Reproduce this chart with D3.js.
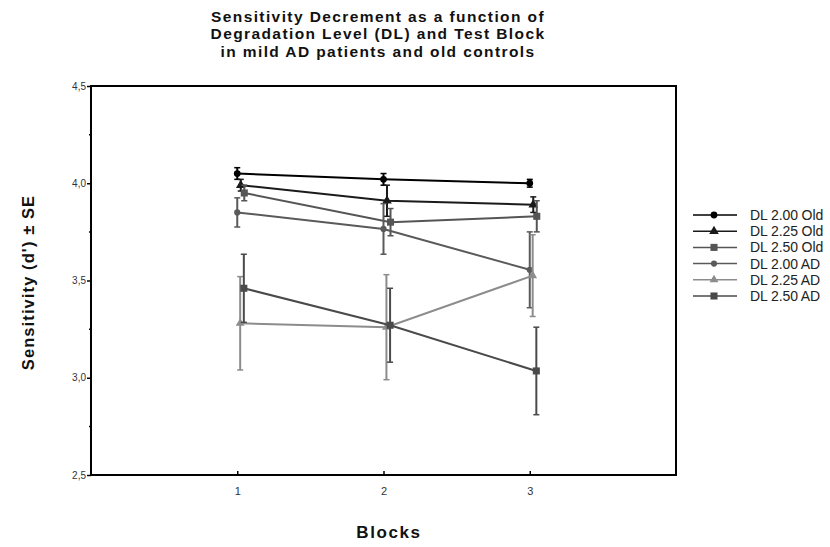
<!DOCTYPE html>
<html>
<head>
<meta charset="utf-8">
<script src="https://cdn.jsdelivr.net/npm/d3@7"></script>
<style>
  body { margin: 0; background: #fff; }
  text { font-family: "Liberation Sans", Arial, sans-serif; }
</style>
</head>
<body>
<script>
// data
var blocks = [1, 2, 3];
var seriesNames = ["DL 2.00 Old", "DL 2.25 Old", "DL 2.50 Old", "DL 2.00 AD", "DL 2.25 AD", "DL 2.50 AD"];
var means = [
    [4.05, 4.02, 4.00],
    [3.99, 3.91, 3.89],
    [3.95, 3.80, 3.83],
    [3.85, 3.765, 3.555],
    [3.28, 3.26, 3.525],
    [3.46, 3.27, 3.035]
];
var errors = [
    [0.03, 0.03, 0.02],
    [0.03, 0.08, 0.04],
    [0.04, 0.07, 0.08],
    [0.075, 0.13, 0.195],
    [0.24, 0.27, 0.21],
    [0.175, 0.19, 0.225]
];
var yTicks = [2.5, 3.0, 3.5, 4.0, 4.5];
var yMinor = [2.75, 3.25, 3.75, 4.25];

// styles
var colors = ["#000", "#1a1a1a", "#555", "#5a5a5a", "#8c8c8c", "#4a4a4a"];
var shapes = [d3.symbolCircle, d3.symbolTriangle, d3.symbolSquare, d3.symbolCircle, d3.symbolTriangle, d3.symbolSquare];
var symSize = [36, 40, 50, 30, 34, 50];
var dodge = [0, 0.024, 0.048, 0, 0.02, 0.045];

var width = 830, height = 547;
var margin = { top: 86, left: 91, right: 154, bottom: 72 };

var svg = d3.select("body").append("svg")
    .attr("width", width)
    .attr("height", height);

var x = d3.scaleLinear().domain([0, 4]).range([margin.left, width - margin.right]);
var y = d3.scaleLinear().domain([2.5, 4.5]).range([height - margin.bottom, margin.top]);

// frame
svg.append("rect")
    .attr("x", x(0)).attr("y", y(4.5))
    .attr("width", x(4) - x(0)).attr("height", y(2.5) - y(4.5))
    .attr("fill", "none").attr("stroke", "#000").attr("stroke-width", 2);

// y axis
var yAxis = svg.append("g")
    .attr("transform", "translate(" + x(0) + ",0)")
    .call(d3.axisLeft(y).tickValues(yTicks).tickSize(4)
        .tickFormat(function (d) { return d3.format(".1f")(d).replace(".", ","); }));
yAxis.select(".domain").remove();
yAxis.selectAll("line").attr("stroke", "#000").attr("stroke-width", 1.5);
yAxis.selectAll("text").attr("font-size", 10).attr("fill", "#333").attr("dx", 2);

svg.append("g").selectAll("line").data(yMinor).enter().append("line")
    .attr("x1", x(0) - 2).attr("x2", x(0))
    .attr("y1", function (d) { return y(d); })
    .attr("y2", function (d) { return y(d); })
    .attr("stroke", "#000").attr("stroke-width", 1.5);

// x axis, ticks point inward
var xAxis = svg.append("g")
    .attr("transform", "translate(0," + y(2.5) + ")")
    .call(d3.axisBottom(x).tickValues(blocks).tickSize(-4).tickPadding(12).tickFormat(d3.format("d")));
xAxis.select(".domain").remove();
xAxis.selectAll("line").attr("stroke", "#000").attr("stroke-width", 1.5);
xAxis.selectAll("text").attr("font-size", 11).attr("fill", "#333");

// lines, error bars, markers
var line = d3.line()
    .x(function (d) { return x(d.b); })
    .y(function (d) { return y(d.m); });

var series = seriesNames.map(function (name, i) {
    return {
        name: name, i: i,
        pts: blocks.map(function (b, j) {
            return { b: b + dodge[i], m: means[i][j], e: errors[i][j] };
        })
    };
});

var g = svg.append("g").selectAll("g").data(series).enter().append("g")
    .attr("stroke", function (d) { return colors[d.i]; })
    .attr("fill", function (d) { return colors[d.i]; });

g.append("path")
    .attr("d", function (d) { return line(d.pts); })
    .attr("fill", "none")
    .attr("stroke-width", 2);

var eb = g.selectAll(".eb").data(function (d) { return d.pts; }).enter().append("g");
eb.append("line")
    .attr("x1", function (d) { return x(d.b); }).attr("x2", function (d) { return x(d.b); })
    .attr("y1", function (d) { return y(d.m - d.e); }).attr("y2", function (d) { return y(d.m + d.e); })
    .attr("stroke-width", 2);
[-1, 1].forEach(function (s) {
    eb.append("line")
        .attr("x1", function (d) { return x(d.b) - 3; }).attr("x2", function (d) { return x(d.b) + 3; })
        .attr("y1", function (d) { return y(d.m + s * d.e); }).attr("y2", function (d) { return y(d.m + s * d.e); })
        .attr("stroke-width", 1.5);
});

g.selectAll(".pt").data(function (d) { return d.pts.map(function (p) { return { p: p, i: d.i }; }); })
    .enter().append("path")
    .attr("transform", function (d) { return "translate(" + x(d.p.b) + "," + y(d.p.m) + ")"; })
    .attr("d", function (d) { return d3.symbol().type(shapes[d.i]).size(symSize[d.i])(); })
    .attr("stroke", "none");

// legend
var leg = svg.append("g").selectAll("g").data(series).enter().append("g")
    .attr("transform", function (d) { return "translate(693," + (215 + d.i * 16.2) + ")"; });
leg.append("line")
    .attr("x1", 0).attr("x2", 44)
    .attr("stroke", function (d) { return colors[d.i]; })
    .attr("stroke-width", 1.5);
leg.append("path")
    .attr("transform", "translate(21,0)")
    .attr("d", function (d) { return d3.symbol().type(shapes[d.i]).size(symSize[d.i])(); })
    .attr("fill", function (d) { return colors[d.i]; });
leg.append("text")
    .attr("x", 57).attr("dy", "0.35em")
    .attr("font-size", 14).attr("letter-spacing", -0.1)
    .attr("fill", "#222")
    .text(function (d) { return d.name; });

// titles
var title = ["Sensitivity Decrement as a function of",
    "Degradation Level (DL) and Test Block",
    "in mild AD patients and old controls"];
svg.append("g").selectAll("text").data(title).enter().append("text")
    .attr("x", 378).attr("y", function (d, i) { return 21.5 + i * 17.5; })
    .attr("text-anchor", "middle")
    .attr("font-size", 15.5).attr("font-weight", "bold").attr("letter-spacing", 1.4).attr("fill", "#111")
    .text(function (d) { return d; });

svg.append("text")
    .attr("transform", "translate(34," + ((y(2.5) + y(4.5)) / 2 + 2) + ") rotate(-90)")
    .attr("text-anchor", "middle")
    .attr("font-size", 16.5).attr("font-weight", "bold").attr("letter-spacing", 1.1).attr("fill", "#111")
    .text("Sensitivity (d') \u00b1 SE");

svg.append("text")
    .attr("x", 389).attr("y", 538)
    .attr("text-anchor", "middle")
    .attr("font-size", 17).attr("font-weight", "bold").attr("letter-spacing", 1.6).attr("fill", "#111")
    .text("Blocks");
</script>
</body>
</html>
